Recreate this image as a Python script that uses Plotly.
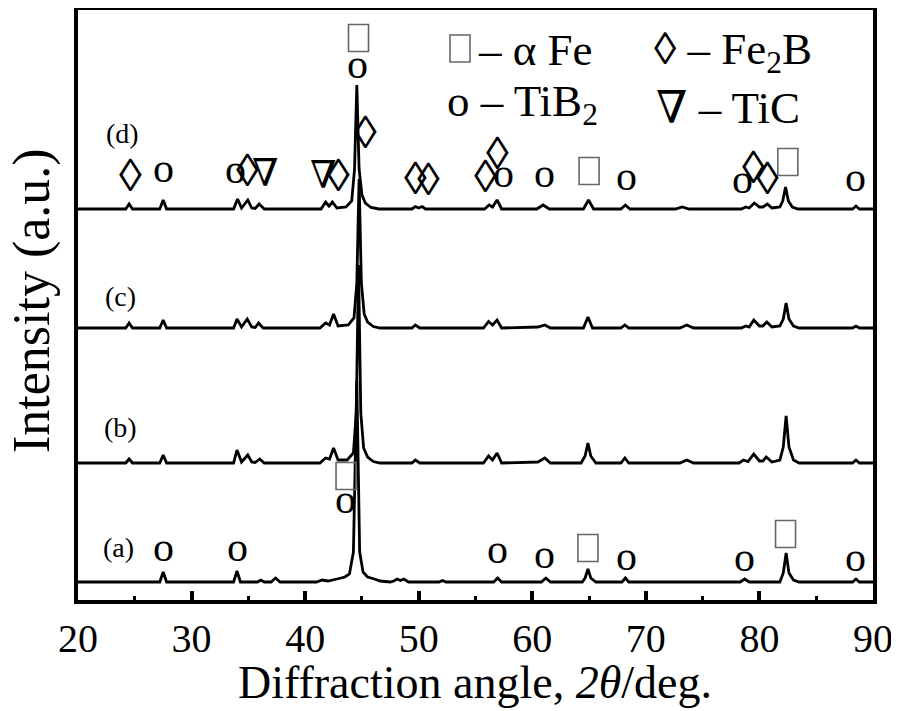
import plotly.graph_objects as go

# ---------------- data (2theta in deg, intensity in a.u. relative to each baseline) -------------
a_x = [20.0, 27.2, 27.5, 27.8, 33.7, 34.0, 34.3, 35.8, 36.1, 36.4, 37.0, 37.4, 37.8,
       41.0, 41.5, 42.0, 42.8, 43.5, 43.9, 44.25, 44.55, 44.8, 45.1, 45.5, 46.1, 46.6, 47.5,
       47.8, 48.1, 48.4, 48.7, 49.1, 51.8, 52.1, 52.4, 56.6, 56.95, 57.3, 60.8, 61.2, 61.6,
       64.4, 64.65, 64.9, 65.15, 65.6, 67.9, 68.2, 68.5, 78.3, 78.7, 79.1,
       81.8, 82.1, 82.35, 82.6, 83.0, 83.5, 88.2, 88.5, 88.8, 90.0]
a_y = [0, 0, 10, 0, 0, 11, 0, 0, 2, 0, 0, 4, 0,
       0, 2, 1, 3, 5, 8, 30, 201, 30, 10, 5, 3, 1, 0,
       1, 3, 1.5, 3, 0, 0, 1.5, 0, 0, 4, 0, 0, 4, 0,
       0, 4, 13, 4, 0, 0, 4, 0, 0, 3, 0,
       0, 9, 29, 9, 2, 0, 0, 3, 0, 0]

b_x = [20.0, 24.2, 24.5, 24.8, 27.2, 27.5, 27.8, 33.7, 34.0, 34.4, 34.95, 35.3, 35.6, 36.0, 36.4,
       41.3, 41.8, 42.15, 42.5, 42.9, 43.7, 44.25, 44.5, 44.7, 44.9, 45.15, 45.5, 46.0, 46.6,
       49.4, 49.7, 50.1, 55.7, 56.15, 56.5, 56.9, 57.3, 60.5, 61.1, 61.6,
       64.3, 64.65, 64.9, 65.15, 65.6, 67.8, 68.15, 68.5, 73.0, 73.6, 74.2,
       78.2, 78.6, 79.0, 79.5, 80.0, 80.3, 80.6, 81.1, 81.8, 82.1, 82.35, 82.6, 83.0, 83.5,
       88.2, 88.5, 88.8, 90.0]
b_y = [0, 0, 4, 0, 0, 8, 0, 0, 13, 1, 8, 1, 0.5, 4, 0,
       0, 5, 4, 15, 3, 3, 10, 50, 198, 50, 15, 6, 1.5, 0,
       0, 3, 0, 0, 7, 3, 10, 0, 1, 5, 0,
       0, 7, 20, 7, 0, 0, 5, 0, 0, 3, 0,
       0, 3, 1.5, 9, 2, 2, 6, 1, 3, 16, 47, 16, 3, 0,
       0, 3, 0, 0]

c_x = [20.0, 24.2, 24.5, 24.8, 27.2, 27.5, 27.8, 33.7, 34.0, 34.4, 34.9, 35.3, 35.6, 35.9, 36.3,
       41.3, 41.8, 42.15, 42.5, 42.9, 43.8, 44.3, 44.55, 44.75, 44.95, 45.2, 45.5, 46.0, 46.6,
       49.4, 49.7, 50.1, 55.7, 56.15, 56.5, 56.9, 57.3, 60.5, 61.1, 61.6,
       64.5, 64.9, 65.3, 67.8, 68.15, 68.5, 73.0, 73.6, 74.2,
       78.4, 78.8, 79.1, 79.5, 80.0, 80.3, 80.65, 81.1, 81.8, 82.1, 82.35, 82.6, 83.0, 83.5,
       88.2, 88.5, 88.8, 90.0]
c_y = [0, 0, 5, 0, 0, 8, 0, 0, 9, 1, 9, 1, 0.5, 5, 0,
       0, 5, 3, 14, 2, 3, 10, 45, 149, 45, 14, 6, 1.5, 0,
       0, 3, 0, 0, 6.5, 3, 8, 0, 1, 3, 0,
       0, 11, 0, 0, 3, 0, 0, 3, 0,
       0, 2, 1, 8, 2, 2, 6, 1, 2, 9, 25, 9, 2, 0,
       0, 2, 0, 0]

d_x = [20.0, 24.2, 24.5, 24.8, 27.2, 27.5, 27.8, 33.7, 34.05, 34.4, 34.95, 35.3, 35.6, 35.95, 36.4,
       41.4, 41.8, 42.1, 42.4, 42.8, 43.6, 44.1, 44.35, 44.55, 44.75, 45.0, 45.3, 45.8, 46.5,
       49.4, 49.7, 50.0, 50.3, 50.6, 55.8, 56.2, 56.5, 56.9, 57.3, 60.4, 60.95, 61.5,
       64.5, 64.95, 65.4, 67.8, 68.2, 68.6, 72.6, 73.2, 73.8,
       78.4, 78.8, 79.1, 79.55, 80.0, 80.3, 80.7, 81.1, 81.8, 82.05, 82.3, 82.55, 82.9, 83.4,
       88.2, 88.5, 88.8, 90.0]
d_y = [0, 0, 5, 0, 0, 9, 0, 0, 10, 1, 9, 1, 0.5, 5, 0,
       0, 7, 3, 7, 1, 2, 8, 40, 124, 40, 14, 6, 1.5, 0,
       0, 2.5, 1, 2.5, 0, 0, 4, 2, 9, 0, 0, 4, 0,
       0, 9, 0, 0, 4, 0, 0, 2, 0,
       0, 2, 1, 6, 2, 2, 5, 1, 2, 8, 22, 8, 2, 0,
       0, 3, 0, 0]

series_names = ["(a)", "(b)", "(c)", "(d)"]
series_x = [a_x, b_x, c_x, d_x]
series_y = [a_y, b_y, c_y, d_y]
offsets = [18, 137, 272, 391]

x_ticks = [20, 30, 40, 50, 60, 70, 80, 90]

# phase identification marks: (symbol, 2theta, height)  "box" = alpha-Fe
d_marks = [("◊", 24.6, 425), ("o", 27.5, 426), ("o", 33.85, 425), ("◊", 34.95, 430),
           ("∇", 36.5, 427), ("∇", 41.6, 425), ("◊", 42.95, 425), ("box", 44.7, 562),
           ("o", 44.6, 530), ("◊", 45.3, 468), ("◊", 49.7, 422), ("◊", 50.9, 421),
           ("◊", 55.85, 424), ("◊", 56.9, 447), ("o", 57.5, 421), ("o", 61.1, 421),
           ("box", 65.0, 429), ("o", 68.3, 418), ("o", 78.5, 415), ("◊", 79.5, 433),
           ("◊", 80.7, 422), ("box", 82.5, 438), ("o", 88.5, 417)]
a_marks = [("box", 43.6, 124), ("o", 43.57, 95), ("o", 27.5, 47), ("o", 34.0, 47),
           ("o", 56.9, 45), ("o", 61.1, 40), ("box", 64.9, 52), ("o", 68.3, 38),
           ("o", 78.7, 37), ("box", 82.3, 66), ("o", 88.5, 37)]

legend_items = ["– α Fe", "◊ – Fe<sub>2</sub>B", "o – TiB<sub>2</sub>", "∇ – TiC"]

# ---------------- figure -------------
# the page body adds an 8 px margin; screen coords = figure coords + 8
OFF = 8
W, H = 891, 703
L, R, T, B = 70, 26, 2, 111
PW, PH = W - L - R, H - T - B   # 795 x 590
SERIF = "Liberation Serif, Times New Roman, DejaVu Serif, serif"
XSCALE = PW / 70.0  # px per degree


def px(xs):
    return (xs - OFF - L) / PW


def py(ys):
    return (T + PH - (ys - OFF)) / PH


fig = go.Figure()
for name, xs, ys, off in zip(series_names, series_x, series_y, offsets):
    fig.add_trace(go.Scatter(x=xs, y=[v + off for v in ys], mode="lines", name=name,
                             line=dict(color="black", width=2.8), showlegend=False,
                             hoverinfo="skip"))

ann = []
shapes = []
sym_size = {"o": 42, "◊": 46, "∇": 38}
sym_shift = {"o": 6, "◊": 0, "∇": 0}
BOX_W, BOX_H = 20, 27
for s, x, y in d_marks + a_marks:
    if s == "box":
        hw = BOX_W / 2 / XSCALE
        shapes.append(dict(type="rect", xref="x", yref="y", x0=x - hw, x1=x + hw,
                           y0=y - BOX_H / 2, y1=y + BOX_H / 2,
                           line=dict(color="#666666", width=1.6)))
    else:
        ann.append(dict(x=x, y=y, xref="x", yref="y", text=s, showarrow=False,
                        xanchor="center", yanchor="middle", yshift=sym_shift[s],
                        font=dict(family=SERIF, size=sym_size[s], color="black")))

label_pos = [(118, 547), (120, 427), (120, 296), (122, 133)]
for name, (lx, ly) in zip(series_names, label_pos):
    ann.append(dict(x=px(lx), y=py(ly), xref="paper", yref="paper", text=name,
                    showarrow=False, xanchor="center", yanchor="middle",
                    font=dict(family=SERIF, size=28, color="black")))

# legend box for alpha-Fe
shapes.append(dict(type="rect", xref="paper", yref="paper", x0=px(450), x1=px(470),
                   y0=py(62), y1=py(35), line=dict(color="#666666", width=1.6)))
legend_pos = [(476, 50), (652, 52), (445, 104), (654, 108)]
for t, (lx, ly) in zip(legend_items, legend_pos):
    ann.append(dict(x=px(lx), y=py(ly), xref="paper", yref="paper", text=t,
                    showarrow=False, xanchor="left", yanchor="middle",
                    font=dict(family=SERIF, size=45, color="black")))

ann.append(dict(x=px(475), y=py(683), xref="paper", yref="paper",
                text="Diffraction angle, <i>2θ</i>/deg.", showarrow=False,
                xanchor="center", yanchor="middle",
                font=dict(family=SERIF, size=46, color="black")))
ann.append(dict(x=px(32), y=py(301), xref="paper", yref="paper",
                text="Intensity (a.u.)", showarrow=False, textangle=-90,
                xanchor="center", yanchor="middle",
                font=dict(family=SERIF, size=52, color="black")))

fig.update_layout(
    width=W, height=H, margin=dict(l=L, r=R, t=T, b=B, autoexpand=False),
    paper_bgcolor="white", plot_bgcolor="white",
    annotations=ann, shapes=shapes,
    xaxis=dict(range=[20, 90], tickvals=x_ticks, ticks="inside", ticklen=9, tickwidth=3.5,
               tickcolor="black", showgrid=False, zeroline=False, showline=True,
               linecolor="black", linewidth=4, mirror=True, automargin=False,
               tickfont=dict(family=SERIF, size=40, color="black"),
               minor=dict(dtick=5, ticks="inside", ticklen=4, tickwidth=3, tickcolor="black")),
    yaxis=dict(range=[0, 590], showticklabels=False, ticks="", showgrid=False,
               zeroline=False, showline=True, linecolor="black", linewidth=4, mirror=True,
               automargin=False),
)

fig.write_html("out.html")
